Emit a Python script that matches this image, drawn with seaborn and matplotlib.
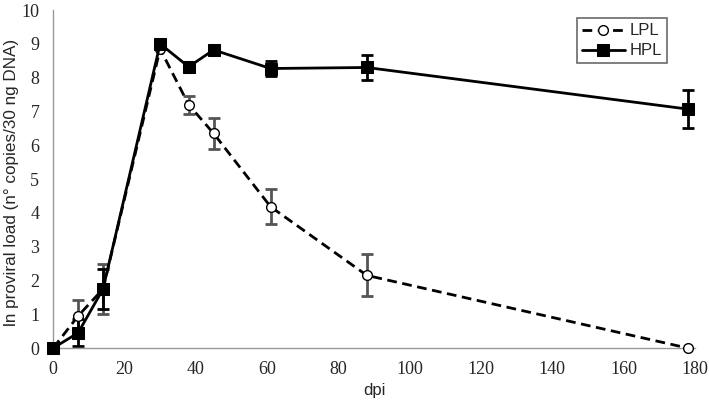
import numpy as np
import pandas as pd
import matplotlib
matplotlib.use('Agg')
import matplotlib.pyplot as plt
import seaborn as sns

# Data
dpi_days = [0, 7, 14, 30, 38, 45, 61, 88, 178]
lpl_load = [0.0, 0.95, 1.75, 8.85, 7.2, 6.35, 4.18, 2.15, 0.0]
lpl_err = [0.0, 0.47, 0.75, 0.0, 0.27, 0.45, 0.52, 0.62, 0.0]
hpl_load = [0.0, 0.45, 1.75, 9.0, 8.32, 8.82, 8.27, 8.3, 7.07]
hpl_err = [0.0, 0.4, 0.6, 0.0, 0.0, 0.0, 0.23, 0.36, 0.55]

sns.set_style('white')
plt.rcParams['font.family'] = ['Liberation Sans', 'DejaVu Sans']

df = pd.DataFrame({
    'dpi': dpi_days * 2,
    'load': lpl_load + hpl_load,
    'group': ['LPL'] * len(dpi_days) + ['HPL'] * len(dpi_days),
})

fig = plt.figure(figsize=(7.09, 4.01), dpi=100)
ax = fig.add_axes([0.075, 0.132, 0.905, 0.843])

# error bars first, so lines and markers sit on top
lpl_mask = np.array(lpl_err) > 0
hpl_mask = np.array(hpl_err) > 0
ax.errorbar(np.array(dpi_days)[lpl_mask], np.array(lpl_load)[lpl_mask],
            yerr=np.array(lpl_err)[lpl_mask], fmt='none', ecolor='#555555',
            elinewidth=2, capsize=4, capthick=2, zorder=2)
ax.errorbar(np.array(dpi_days)[hpl_mask], np.array(hpl_load)[hpl_mask],
            yerr=np.array(hpl_err)[hpl_mask], fmt='none', ecolor='black',
            elinewidth=2, capsize=4, capthick=2, zorder=2)

sns.lineplot(data=df[df['group'] == 'LPL'], x='dpi', y='load', ax=ax,
             color='black', linewidth=2, linestyle=(0, (3.5, 2)),
             marker='o', markersize=7, markerfacecolor='white',
             markeredgecolor='black', markeredgewidth=1,
             label='LPL', zorder=3, clip_on=False)
sns.lineplot(data=df[df['group'] == 'HPL'], x='dpi', y='load', ax=ax,
             color='black', linewidth=2, marker='s', markersize=9,
             markerfacecolor='black', markeredgecolor='black',
             label='HPL', zorder=4, clip_on=False)

ax.set_xlim(0, 180)
ax.set_ylim(0, 10)
ax.set_xticks(range(0, 181, 20))
ax.set_yticks(range(0, 11))
ax.tick_params(axis='both', direction='out', length=4, color='#999999', width=1,
               labelsize=13, labelfontfamily='Liberation Serif')
ax.tick_params(axis='y', pad=6)
ax.tick_params(axis='x', pad=5)

ax.set_xlabel('dpi', fontsize=12)
ax.set_ylabel('ln proviral load (n° copies/30 ng DNA)', fontsize=12.3)
ax.yaxis.set_label_coords(-0.053, 0.49)

for side in ['top', 'right']:
    ax.spines[side].set_visible(False)
for side in ['left', 'bottom']:
    ax.spines[side].set_color('#999999')
    ax.spines[side].set_linewidth(1)

leg = ax.legend(loc='upper right', bbox_to_anchor=(0.97, 1.0), fontsize=12,
                frameon=True, fancybox=False, edgecolor='#444444',
                handlelength=2.6, borderpad=0.3, labelspacing=0.3,
                handletextpad=0.3)
leg.get_frame().set_linewidth(1.2)

fig.savefig('out.png', dpi=100)
